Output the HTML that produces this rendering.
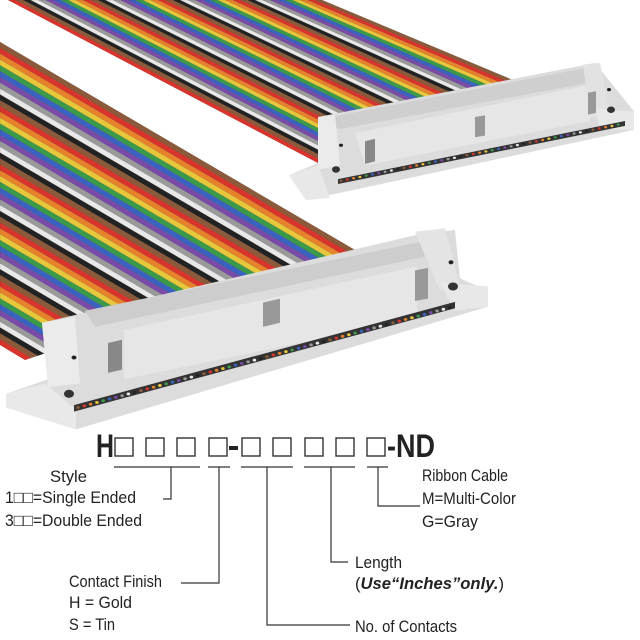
<!DOCTYPE html>
<html><head><meta charset="utf-8"><style>
html,body{margin:0;padding:0;background:#fff;}
svg{display:block;}
text{font-family:"Liberation Sans","DejaVu Sans",sans-serif;fill:#222;}
</style></head><body>
<svg id="s" width="640" height="640" viewBox="0 0 640 640" xmlns="http://www.w3.org/2000/svg">
<g id="back"></g>
<!-- back connector -->
<g transform="scale(1,0.807)">
<polygon points="318,145 595,78 634,138 634,161 306,248 289,217 318,202" fill="#dcdcdc"/>
<polygon points="318,148 595,82 600,100 340,160" fill="#cfcfcf"/>
<polygon points="355,165 590,105 590,150 365,205" fill="#e6e6e6"/>
<polygon points="318,145 335,142 340,205 318,210" fill="#ebebeb"/>
<polygon points="583,80 600,78 610,140 590,146" fill="#e2e2e2"/>
<polygon points="289,217 318,205 330,245 306,248" fill="#e8e8e8"/>
<polygon points="595,135 634,138 634,161 600,160" fill="#e8e8e8"/>
<polygon points="338,222 625,150 625,156 338,228" fill="#333"/>
<polygon points="365,175 375,172 375,200 365,203" fill="#888"/>
<polygon points="475,145 485,143 485,168 475,170" fill="#999"/>
<polygon points="588,115 596,113 596,140 588,142" fill="#999"/>
<circle cx="341" cy="180" r="2" fill="#222"/>
<circle cx="336" cy="210" r="4" fill="#333"/>
<circle cx="609" cy="111" r="2" fill="#222"/>
<circle cx="611" cy="136" r="4" fill="#333"/>
</g>
<g id="front"></g>
<!-- front connector -->
<g transform="scale(1,0.807)">
<polygon points="42,400 420,290 455,285 460,345 488,360 488,380 76,532 6,505 6,488 48,470" fill="#dcdcdc"/>
<polygon points="85,385 420,300 425,318 95,405" fill="#cdcdcd"/>
<polygon points="124,409 417,330 417,395 124,470" fill="#e6e6e6"/>
<polygon points="42,400 75,393 80,475 48,480" fill="#ebebeb"/>
<polygon points="415,287 445,283 460,355 440,360" fill="#e4e4e4"/>
<polygon points="6,488 45,475 76,508 76,532 6,505" fill="#e9e9e9"/>
<polygon points="440,350 488,355 488,380 455,385" fill="#e8e8e8"/>
<polygon points="74,502 455,374 455,382 74,510" fill="#333"/>
<polygon points="108,425 122,421 122,458 108,462" fill="#888"/>
<polygon points="263,375 280,370 280,400 263,405" fill="#999"/>
<polygon points="415,335 428,332 428,370 415,373" fill="#999"/>
<circle cx="74" cy="443" r="2.5" fill="#222"/>
<circle cx="69" cy="488" r="5" fill="#333"/>
<circle cx="451" cy="325" r="2.5" fill="#222"/>
<circle cx="453" cy="355" r="5" fill="#333"/>
</g>
<g id="dots" transform="scale(1,0.807)"></g>

<!-- part number -->
<text x="96" y="457" font-size="32" font-weight="bold" textLength="18" lengthAdjust="spacingAndGlyphs">H</text>
<g fill="none" stroke="#333" stroke-width="1.4">
<rect x="115" y="438" width="18" height="18"/><rect x="146" y="438" width="18" height="18"/>
<rect x="177" y="438" width="18" height="18"/><rect x="209" y="438" width="18" height="18"/>
<rect x="242" y="438" width="18" height="18"/><rect x="273" y="438" width="18" height="18"/>
<rect x="305" y="438" width="18" height="18"/><rect x="336" y="438" width="18" height="18"/>
<rect x="367" y="438" width="18" height="18"/>
</g>
<rect x="229" y="446" width="9" height="4" fill="#222"/>
<text x="387" y="457" font-size="32" font-weight="bold" textLength="48" lengthAdjust="spacingAndGlyphs">-ND</text>
<g fill="none" stroke="#333" stroke-width="1.2">
<path d="M114 467H200M208 467H230M241 467H293M304 467H355M367 467H388"/>
<path d="M171 467V499H163"/>
<path d="M219 467V583H181"/>
<path d="M267 467V625H350"/>
<path d="M331 467V562H348"/>
<path d="M378 467V506H420"/>
</g>
<g font-size="17">
<text x="50" y="482" textLength="37" lengthAdjust="spacingAndGlyphs">Style</text>
<text x="5" y="503" textLength="131" lengthAdjust="spacingAndGlyphs">1□□=Single Ended</text>
<text x="5" y="526" textLength="137" lengthAdjust="spacingAndGlyphs">3□□=Double Ended</text>
<text x="69" y="587" textLength="93" lengthAdjust="spacingAndGlyphs">Contact Finish</text>
<text x="69" y="608" textLength="63" lengthAdjust="spacingAndGlyphs">H = Gold</text>
<text x="69" y="630" textLength="46" lengthAdjust="spacingAndGlyphs">S = Tin</text>
<text x="355" y="568" textLength="47" lengthAdjust="spacingAndGlyphs">Length</text>
<text x="355" y="589" textLength="149" lengthAdjust="spacingAndGlyphs">(<tspan font-weight="bold" font-style="italic">Use“Inches”only.</tspan>)</text>
<text x="355" y="632" textLength="102" lengthAdjust="spacingAndGlyphs">No. of Contacts</text>
<text x="422" y="481" textLength="86" lengthAdjust="spacingAndGlyphs">Ribbon Cable</text>
<text x="422" y="504" textLength="94" lengthAdjust="spacingAndGlyphs">M=Multi-Color</text>
<text x="422" y="527" textLength="56" lengthAdjust="spacingAndGlyphs">G=Gray</text>
</g>
</svg>
<script>
var C=["#8a5a3a","#d8342c","#e8822a","#e8c83a","#3a9a4a","#3a62c0","#7a4aa8","#9a9a9a","#e8e8e8","#222"];
function quads(g,n,f){var h="";for(var i=0;i<n;i++){var a=f(i/n),b=f((i+1)/n);
h+='<polygon points="'+a[0]+','+a[1]+' '+a[2]+','+a[3]+' '+b[2]+','+b[3]+' '+b[0]+','+b[1]+'" fill="'+C[i%10]+'" stroke="rgba(0,0,0,0.2)" stroke-width="0.4"/>';}
document.getElementById(g).innerHTML=h;}
quads("back",42,function(t){return [8+314*(1-t),0,318+202*(1-t),163-80*(1-t)];});
quads("front",52,function(t){return [0,42+303*t, 355-330*t,250+110*t];});
var d="";for(var i=0;i<60;i++){var x=78+i*6.3,y=505-i*2.1;d+='<circle cx="'+x+'" cy="'+y+'" r="1.8" fill="'+C[i%10]+'"/>';}
for(var i=0;i<45;i++){var x=341+i*6.3,y=224-i*1.58;d+='<circle cx="'+x+'" cy="'+y+'" r="1.5" fill="'+C[i%10]+'"/>';}
document.getElementById("dots").innerHTML=d;
</script>
</body></html>
